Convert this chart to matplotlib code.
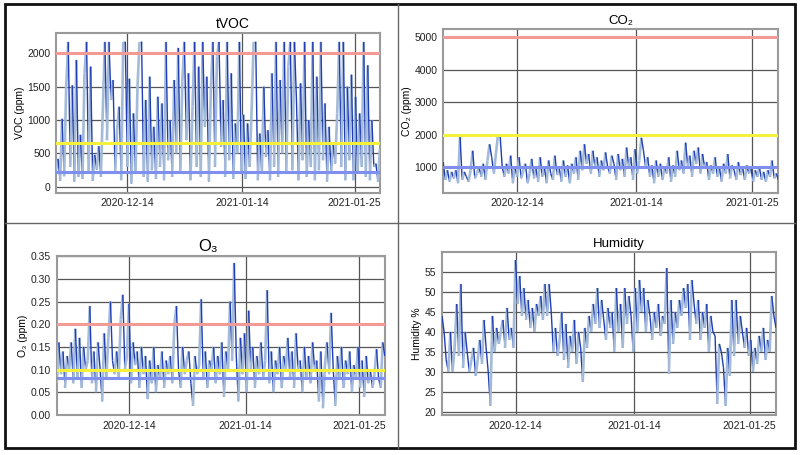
import numpy as np
import matplotlib
matplotlib.use("Agg")
import matplotlib.pyplot as plt
from matplotlib.collections import LineCollection
from matplotlib.lines import Line2D

plt.rcParams['font.family'] = ['Liberation Sans', 'DejaVu Sans']

# readings (one value per sample, x axis is sample order)
tvoc = [
    250, 420, 90, 1020, 160, 1500, 2170, 300, 1520, 80,
    1900, 150, 780, 120, 1700, 2170, 200, 1800, 90, 480,
    260, 610, 150, 1180, 2170, 700, 2170, 1300, 1600, 200,
    850, 1200, 100, 2170, 2170, 300, 1620, 50, 1100, 200,
    1500, 2170, 2170, 150, 1300, 80, 1650, 250, 900, 120,
    1350, 300, 1250, 100, 2170, 400, 1000, 150, 1600, 500,
    2080, 200, 1580, 2170, 700, 1700, 100, 1200, 2170, 300,
    1800, 150, 2170, 900, 1650, 80, 1450, 2170, 300, 1950,
    2170, 600, 1300, 150, 2170, 400, 1700, 120, 950, 500,
    2170, 200, 1080, 120, 950, 300, 1150, 2170, 2170, 100,
    800, 200, 1500, 450, 850, 100, 1700, 300, 2170, 150,
    1600, 500, 2170, 200, 1800, 2170, 250, 2170, 1300, 100,
    1550, 400, 2170, 150, 1000, 300, 2170, 100, 1650, 250,
    2170, 400, 1250, 80, 900, 200, 650, 350, 1100, 2170,
    300, 2170, 100, 1500, 400, 1680, 100, 1350, 200, 1100,
    300, 2170, 150, 1820, 100, 1000, 300, 350, 80, 570,
]
co2 = [
    1150, 600, 900, 550, 850, 650, 900, 500, 1950, 600,
    850, 700, 550, 900, 1500, 650, 800, 1000, 700, 1100,
    600, 1200, 1700, 1300, 800, 1400, 2000, 1950, 1000, 700,
    1100, 800, 1350, 500, 1000, 700, 1300, 650, 900, 1100,
    500, 800, 1250, 650, 950, 550, 1300, 700, 1000, 500,
    1200, 800, 600, 1350, 750, 1000, 550, 1200, 700, 1050,
    500, 1100, 800, 1300, 600, 1500, 900, 1700, 1100, 1400,
    800, 1500, 1000, 1300, 700, 1200, 900, 1450, 1000, 800,
    1350, 1100, 600, 1400, 900, 1250, 700, 1600, 1000, 1300,
    600, 1550, 800, 1200, 1900, 1500, 1000, 1300, 700, 1050,
    500, 1200, 700, 1100, 600, 1000, 800, 1300, 550, 1050,
    700, 1500, 900, 1200, 800, 1750, 1000, 1350, 700, 1500,
    1100, 1600, 800, 1400, 1000, 1150, 600, 1050, 800, 1300,
    700, 1000, 550, 1100, 800, 1400, 650, 1050, 900, 600,
    1150, 750, 1000, 600, 1050, 800, 950, 550, 900, 700,
    1000, 600, 850, 550, 900, 700, 1200, 650, 800, 600,
]
o3 = [
    0.07, 0.16, 0.09, 0.14, 0.06, 0.13, 0.10, 0.16, 0.07, 0.19,
    0.08, 0.17, 0.06, 0.15, 0.10, 0.12, 0.24, 0.07, 0.14, 0.05,
    0.16, 0.10, 0.03, 0.18, 0.08, 0.17, 0.25, 0.12, 0.09, 0.14,
    0.08, 0.21, 0.265, 0.10, 0.13, 0.245, 0.07, 0.16, 0.11, 0.14,
    0.06, 0.15, 0.09, 0.13, 0.035, 0.12, 0.07, 0.15, 0.05, 0.11,
    0.08, 0.14, 0.06, 0.12, 0.09, 0.13, 0.07, 0.20, 0.24, 0.10,
    0.06, 0.15, 0.09, 0.12, 0.14, 0.07, 0.02, 0.13, 0.09, 0.11,
    0.255, 0.08, 0.14, 0.06, 0.12, 0.10, 0.15, 0.07, 0.13, 0.09,
    0.16, 0.04, 0.14, 0.10, 0.25, 0.12, 0.335, 0.13, 0.03, 0.17,
    0.09, 0.18, 0.05, 0.23, 0.10, 0.15, 0.06, 0.13, 0.09, 0.16,
    0.08, 0.12, 0.275, 0.07, 0.14, 0.05, 0.12, 0.09, 0.15, 0.06,
    0.13, 0.10, 0.17, 0.08, 0.14, 0.06, 0.18, 0.10, 0.12, 0.05,
    0.15, 0.08, 0.13, 0.07, 0.16, 0.10, 0.12, 0.03, 0.14, 0.015,
    0.11, 0.16, 0.09, 0.225, 0.10, 0.02, 0.13, 0.08, 0.15, 0.06,
    0.12, 0.09, 0.14, 0.05, 0.11, 0.08, 0.15, 0.06, 0.12, 0.04,
    0.13, 0.07, 0.10, 0.06, 0.09, 0.145, 0.08, 0.06, 0.16, 0.13,
]
humidity = [
    44, 40, 33, 30, 40, 30, 36, 47, 34, 52,
    31, 40, 35, 30, 33, 36, 29, 33, 38, 32,
    43, 36, 30, 21.5, 44, 35, 41, 37, 40, 43,
    36, 46, 38, 41, 36, 58, 47, 54, 44, 51,
    43, 48, 41, 46, 40, 47, 44, 49, 43, 52,
    44, 52, 45, 35, 41, 34, 38, 45, 33, 42,
    31, 39, 35, 43, 32, 40, 36, 27.5, 41, 36,
    44, 40, 47, 42, 51, 41, 48, 43, 38, 46,
    41, 45, 35, 51, 40, 47, 36, 51, 42, 49,
    44, 35, 51, 40, 53, 45, 51, 40, 48, 44,
    38, 45, 41, 47, 39, 44, 42, 56, 29.5, 48,
    37, 45, 41, 48, 44, 51, 46, 52, 38, 53,
    47, 42, 48, 38, 45, 41, 47, 35, 44, 40,
    39, 22, 37, 35, 31, 21.5, 36, 29, 48, 34,
    48, 37, 44, 40, 36, 41, 34, 38, 30, 36,
    32, 39, 35, 41, 33, 38, 35, 49, 44, 41,
]

date_labels = ['2020-12-14', '2021-01-14', '2021-01-25']
date_index = [35, 91.5, 146.5]

# thresholds: (red, yellow, blue)
tvoc_limits = [2000, 660, 225]
co2_limits = [5000, 2000, 1000]
o3_limits = [0.20, 0.10, 0.082]

DARK = '#1f3db4'
LIGHT = '#a3bad8'
GRID = '#555555'


def draw_series(ax, vals):
    y = np.array(vals, dtype=float)
    x = np.arange(len(y))
    pts = np.column_stack([x, y]).reshape(-1, 1, 2)
    segs = np.concatenate([pts[:-1], pts[1:]], axis=1)
    down = np.diff(y) < 0
    cols = [DARK if d else LIGHT for d in down]
    widths = [1.0 if d else 1.9 for d in down]
    ax.add_collection(LineCollection(segs, colors=cols, linewidths=widths, zorder=3))
    ax.set_xlim(0, len(y) - 1)


def style(ax, title, ylabel, yticks, ylim, title_x=0.53, title_size=9.5):
    ax.set_ylim(*ylim)
    ax.set_yticks(yticks)
    ax.set_xticks(date_index)
    ax.set_xticklabels(date_labels)
    ax.tick_params(length=0, labelsize=7.5, pad=4, colors='#222222')
    ax.grid(True, color=GRID, linewidth=0.9, zorder=1)
    for s in ax.spines.values():
        s.set_color('#9a9a9a')
        s.set_linewidth(1.5)
    ax.set_title(title, fontsize=title_size, x=title_x, pad=4)
    ax.set_ylabel(ylabel, fontsize=7.5, labelpad=2)


def limits(ax, lims):
    for val, c in zip(lims, ['#f29a96', '#f5f03a', '#7f8ff0']):
        ax.axhline(val, color=c, linewidth=2.2, zorder=4)


fig = plt.figure(figsize=(8, 4.55), dpi=100)

ax1 = fig.add_axes([0.070, 0.576, 0.405, 0.351])
draw_series(ax1, tvoc)
limits(ax1, tvoc_limits)
style(ax1, 'tVOC', 'VOC (ppm)', [0, 500, 1000, 1500, 2000], (-90, 2300),
      title_x=0.546, title_size=10)

ax2 = fig.add_axes([0.554, 0.576, 0.419, 0.360])
draw_series(ax2, co2)
limits(ax2, co2_limits)
style(ax2, 'CO₂', 'CO₂ (ppm)', [1000, 2000, 3000, 4000, 5000], (200, 5250))

ax3 = fig.add_axes([0.071, 0.088, 0.410, 0.349])
draw_series(ax3, o3)
limits(ax3, o3_limits)
style(ax3, 'O₃', 'O₃ (ppm)', np.arange(0, 0.36, 0.05), (0, 0.35), title_x=0.46, title_size=12)
ax3.set_yticklabels(['%.2f' % v for v in np.arange(0, 0.36, 0.05)])

ax4 = fig.add_axes([0.5525, 0.088, 0.4175, 0.358])
draw_series(ax4, humidity)
style(ax4, 'Humidity', 'Humidity %', [20, 25, 30, 35, 40, 45, 50, 55], (19.2, 60))

# panel frames
W, H = 800, 455
fx = lambda px: px / W
fy = lambda py: 1 - py / H
fig.add_artist(plt.Rectangle((fx(5), fy(448)), fx(790), 444 / H, fill=False,
                             edgecolor='#111111', linewidth=2, transform=fig.transFigure))
fig.add_artist(Line2D([fx(5), fx(795)], [fy(223), fy(223)], color='#666666', linewidth=1,
                      transform=fig.transFigure))
fig.add_artist(Line2D([fx(398), fx(398)], [fy(4), fy(448)], color='#666666', linewidth=1,
                      transform=fig.transFigure))

fig.savefig('out.png', dpi=100)
